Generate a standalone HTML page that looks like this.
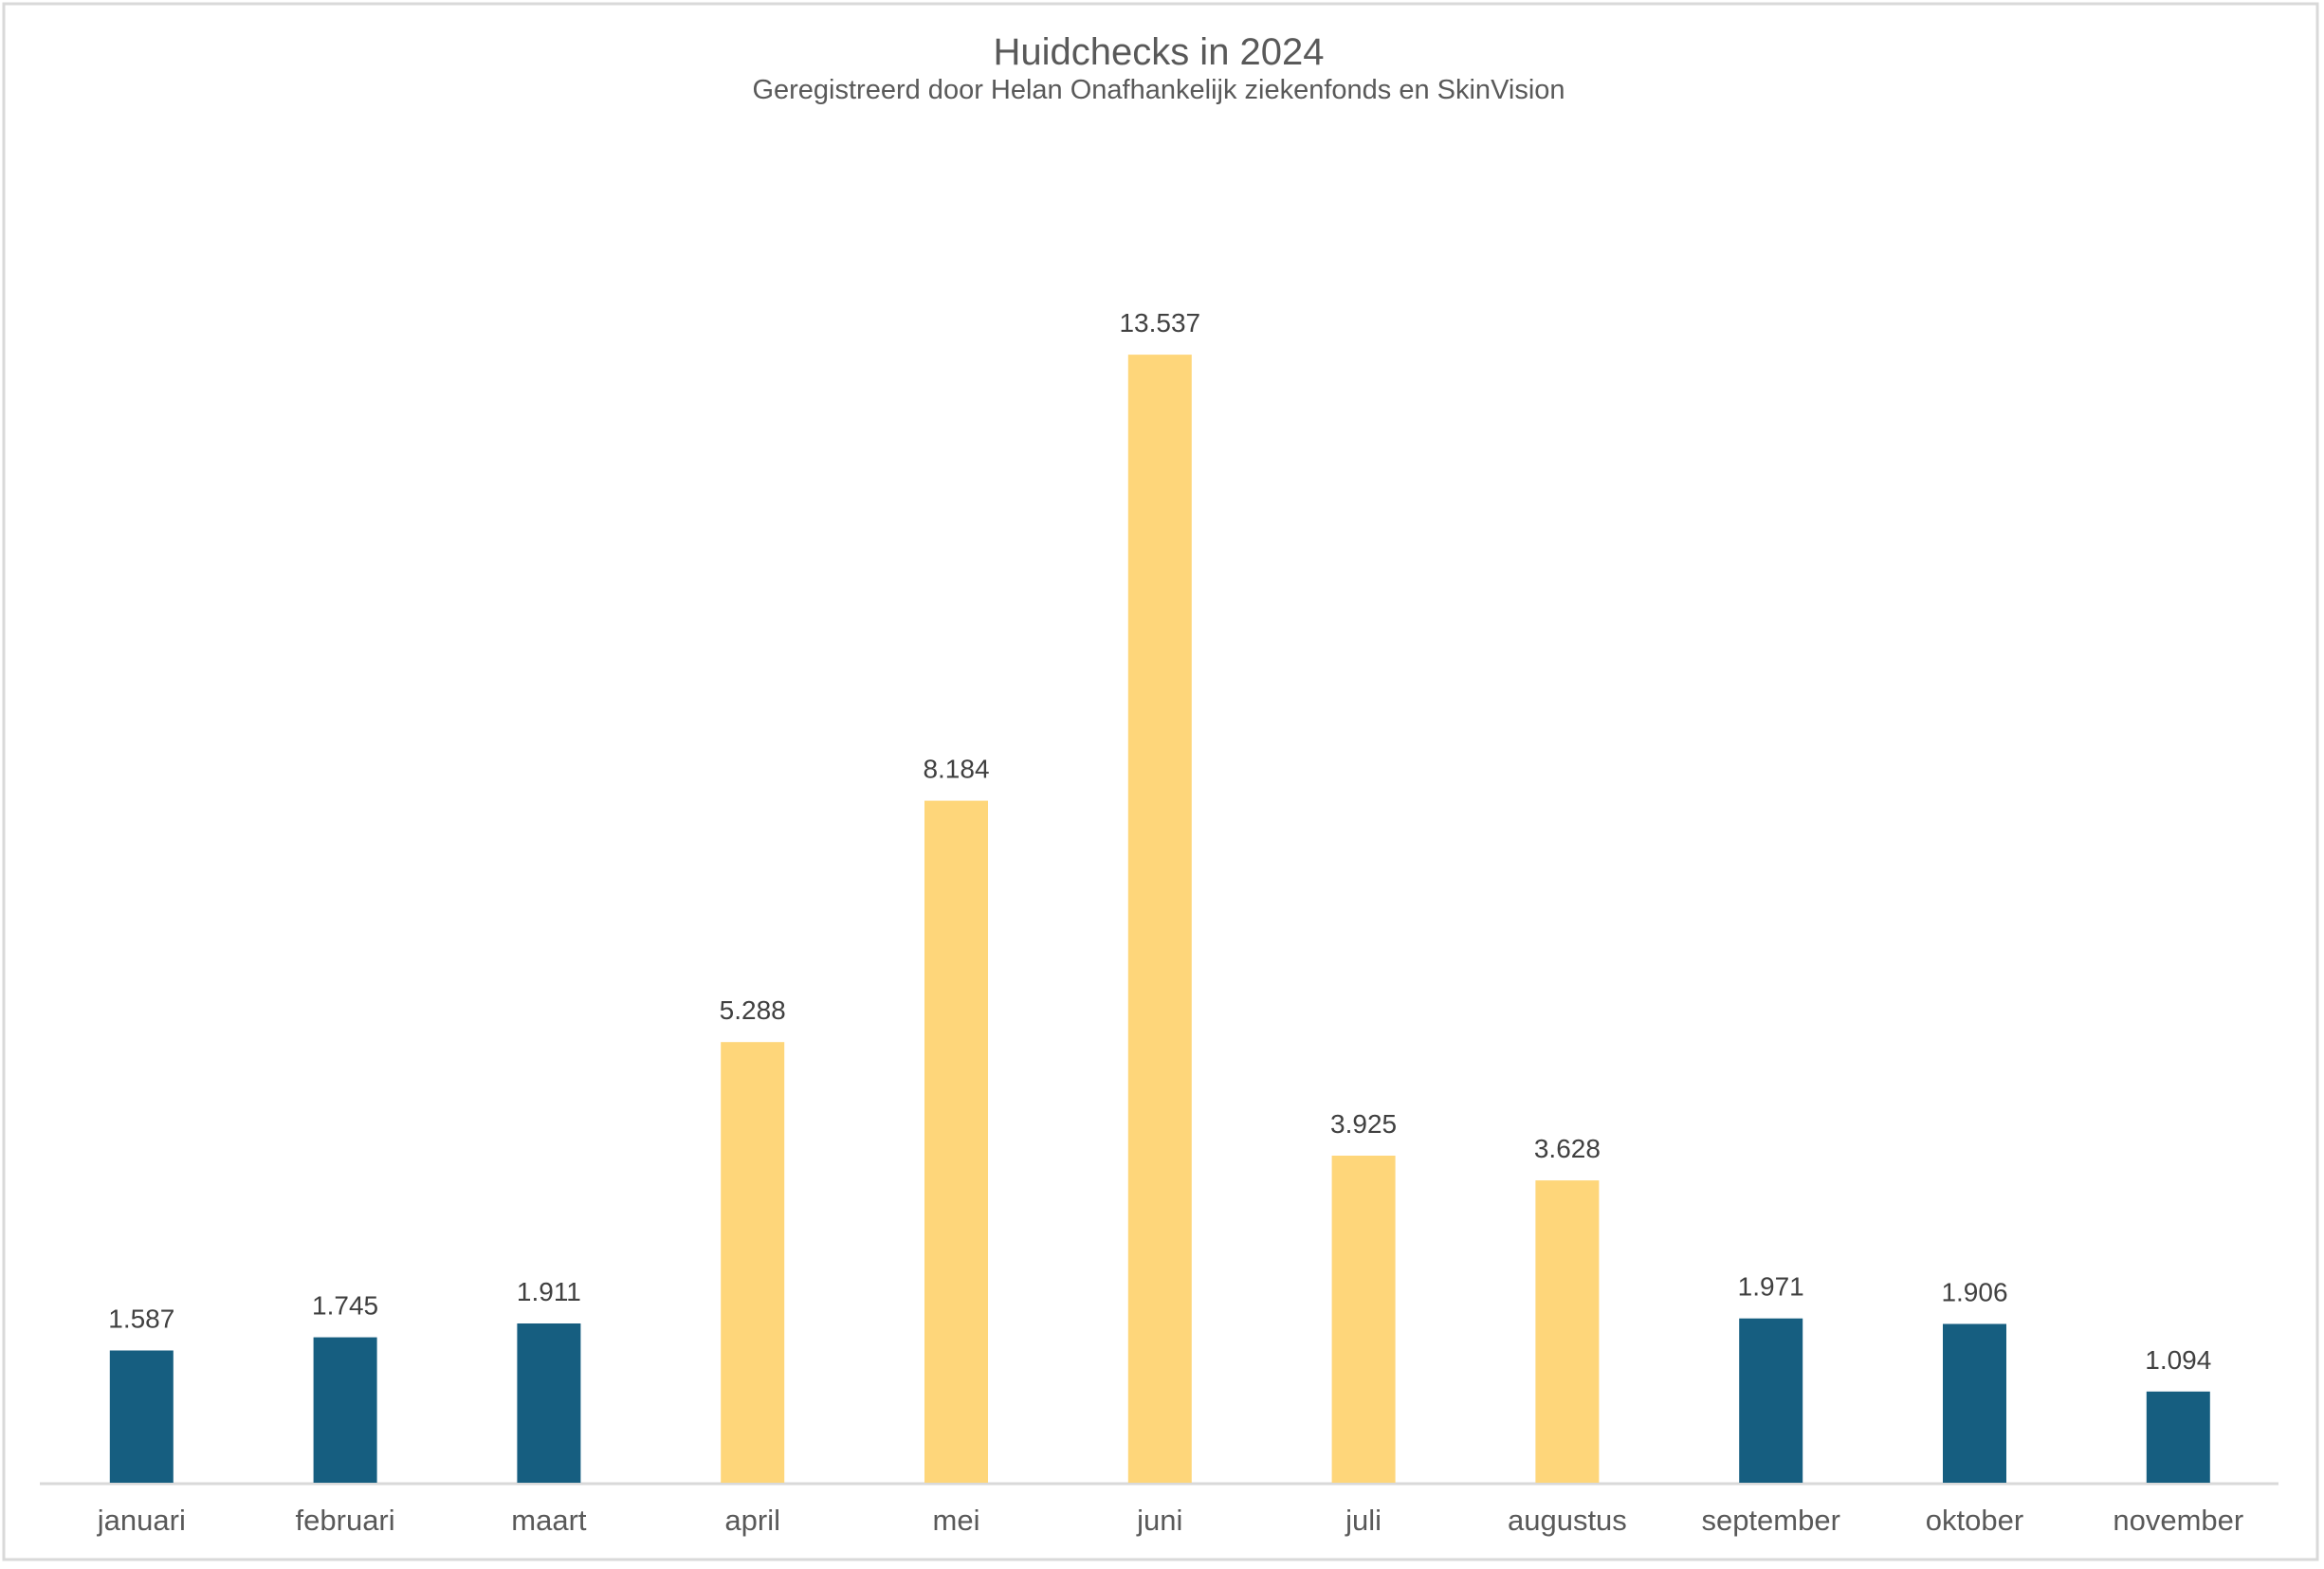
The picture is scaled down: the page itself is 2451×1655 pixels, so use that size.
<!DOCTYPE html>
<html><head><meta charset="utf-8"><style>html,body{margin:0;padding:0;background:#fff}</style></head>
<body>
<svg width="2451" height="1650" xmlns="http://www.w3.org/2000/svg" font-family="Liberation Sans, Arial, sans-serif">
<rect x="0" y="0" width="2451" height="1650" fill="#fff"/>
<rect x="4" y="4" width="2440" height="1641" fill="none" stroke="#d9d9d9" stroke-width="3"/>
<text x="1222" y="68" text-anchor="middle" font-size="40" fill="#595959">Huidchecks in 2024</text>
<text x="1222" y="104" text-anchor="middle" font-size="29" fill="#595959">Geregistreerd door Helan Onafhankelijk ziekenfonds en SkinVision</text>
<line x1="42" y1="1565" x2="2403" y2="1565" stroke="#d9d9d9" stroke-width="3"/>
<g fill="#165e80">
<rect x="115.8" y="1424.5" width="67" height="139.5"/>
<rect x="330.6" y="1410.6" width="67" height="153.4"/>
<rect x="545.4" y="1396.0" width="67" height="168.0"/>
<rect x="1834.2" y="1390.7" width="67" height="173.3"/>
<rect x="2049" y="1396.5" width="67" height="167.5"/>
<rect x="2263.8" y="1467.8" width="67" height="96.2"/>
</g>
<g fill="#fed67a">
<rect x="760.2" y="1099.2" width="67" height="464.8"/>
<rect x="975" y="844.6" width="67" height="719.4"/>
<rect x="1189.8" y="374.1" width="67" height="1189.9"/>
<rect x="1404.6" y="1219.0" width="67" height="345.0"/>
<rect x="1619.4" y="1245.1" width="67" height="318.9"/>
</g>
<g font-size="28" fill="#404040" text-anchor="middle">
<text x="149.3" y="1400.5">1.587</text>
<text x="364.1" y="1386.6">1.745</text>
<text x="578.9" y="1372.0">1.911</text>
<text x="793.7" y="1075.2">5.288</text>
<text x="1008.5" y="820.6">8.184</text>
<text x="1223.3" y="350.1">13.537</text>
<text x="1438.1" y="1195.0">3.925</text>
<text x="1652.9" y="1221.1">3.628</text>
<text x="1867.7" y="1366.7">1.971</text>
<text x="2082.5" y="1372.5">1.906</text>
<text x="2297.3" y="1443.8">1.094</text>
</g>
<g font-size="31" fill="#595959" text-anchor="middle">
<text x="149.3" y="1614">januari</text>
<text x="364.1" y="1614">februari</text>
<text x="578.9" y="1614">maart</text>
<text x="793.7" y="1614">april</text>
<text x="1008.5" y="1614">mei</text>
<text x="1223.3" y="1614">juni</text>
<text x="1438.1" y="1614">juli</text>
<text x="1652.9" y="1614">augustus</text>
<text x="1867.7" y="1614">september</text>
<text x="2082.5" y="1614">oktober</text>
<text x="2297.3" y="1614">november</text>
</g>
</svg>
</body></html>
